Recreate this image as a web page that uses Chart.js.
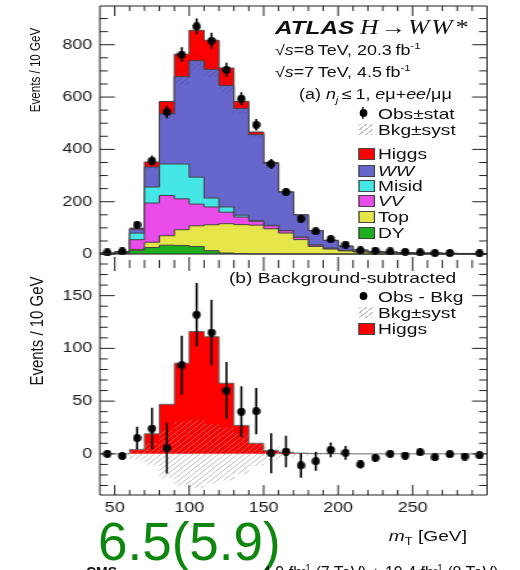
<!DOCTYPE html>
<html>
<head>
<meta charset="utf-8">
<script src="https://cdn.jsdelivr.net/npm/chart.js@4.4.1/dist/chart.umd.min.js"></script>
<style>
  body { margin: 0; background: #fff; width: 520px; height: 570px; overflow: hidden; position: relative; }
  #wrap { position: absolute; left: 0; top: 0; width: 406.25px; height: 570px; transform: scaleX(1.28); transform-origin: 0 0; }
  canvas { position: absolute; left: 0; }
  .t { position: absolute; white-space: nowrap; line-height: 1; font-family: 'Liberation Sans', Arial, sans-serif; color: #111; }
  .lg { font-size: 15px; left: 295.3px; }
  .box { position: absolute; left: 279.7px; width: 11.2px; height: 10px; border: 0.8px solid #444; }
  .dot { position: absolute; width: 6.3px; height: 8px; border-radius: 50%; background: #000; }
  .bar { position: absolute; width: 1.6px; background: #000; }
  .hatch { position: absolute; left: 279.7px; width: 11.7px; height: 11px;
           background: repeating-linear-gradient(-45deg, #bdbdbd 0 1px, transparent 1px 3.5px); }
  sup, sub { line-height: 0; }
</style>
</head>
<body>
<div id="wrap">
  <canvas id="cTop" width="406" height="270" style="top:0"></canvas>
  <canvas id="cBot" width="406" height="270" style="top:255px"></canvas>

  <div class="t" style="left:214.8px;top:18px;font-size:19px;font-weight:bold;font-style:italic">ATLAS</div>
  <div class="t" style="left:281.3px;top:17.2px;font-size:20px;font-style:italic;font-family:'Liberation Serif','Times New Roman',serif;letter-spacing:1.5px">H&#8594;WW*</div>
  <div class="t" style="left:214.8px;top:43.1px;font-size:14px">√<i>s</i>=8&#8201;TeV, 20.3&#8201;fb<sup style="font-size:9px">-1</sup></div>
  <div class="t" style="left:214.8px;top:65.1px;font-size:14px">√<i>s</i>=7&#8201;TeV, 4.5&#8201;fb<sup style="font-size:9px">-1</sup></div>
  <div class="t" style="left:233.6px;top:87.1px;font-size:14px">(a) <i>n</i><sub style="font-size:9px"><i>j</i></sub>&#8201;≤&#8201;1, <i>e</i>μ+<i>ee</i>/μμ</div>

  <div class="bar" style="left:282.8px;top:107px;height:12px"></div>
  <div class="dot" style="left:280.5px;top:109px"></div>
  <div class="t lg" style="top:105.6px">Obs±stat</div>
  <div class="hatch" style="top:123.5px"></div>
  <div class="t lg" style="top:121.6px">Bkg±syst</div>
  <div class="box" style="top:147.5px;background:#ff0000"></div>
  <div class="t lg" style="top:145.6px">Higgs</div>
  <div class="box" style="top:164.5px;background:#6666cc"></div>
  <div class="t lg" style="top:162.6px;font-style:italic">WW</div>
  <div class="box" style="top:179.5px;background:#44e6e6"></div>
  <div class="t lg" style="top:177.6px">Misid</div>
  <div class="box" style="top:194.5px;background:#ea4cea"></div>
  <div class="t lg" style="top:192.6px;font-style:italic">VV</div>
  <div class="box" style="top:210.5px;background:#e6e64a"></div>
  <div class="t lg" style="top:208.6px">Top</div>
  <div class="box" style="top:226.5px;background:#1eae1e"></div>
  <div class="t lg" style="top:224.6px">DY</div>

  <div class="t" style="left:178.9px;top:269.6px;font-size:15px">(b) Background-subtracted</div>
  <div class="dot" style="left:280.5px;top:292px"></div>
  <div class="t lg" style="top:288.6px">Obs - Bkg</div>
  <div class="hatch" style="top:306.5px"></div>
  <div class="t lg" style="top:304.6px">Bkg±syst</div>
  <div class="box" style="top:322.5px;background:#ff0000"></div>
  <div class="t lg" style="top:320.6px">Higgs</div>

  <div class="t" style="left:27.3px;top:70px;font-size:11.6px;transform:translate(-50%,-50%) rotate(-90deg)">Events / 10 GeV</div>
  <div class="t" style="left:28.1px;top:331px;font-size:15px;transform:translate(-50%,-50%) rotate(-90deg)">Events / 10 GeV</div>
  <div class="t" style="right:41.4px;top:527.6px;font-size:15px"><i>m</i><sub style="font-size:10px">T</sub> [GeV]</div>
</div>

<div class="t" style="left:98px;top:515px;font-size:53px;color:#0f870f">6.5(5.9)</div>
<div class="t" style="left:86px;top:565px;font-size:14px;font-weight:bold">CMS</div>
<div class="t" style="left:262px;top:565px;font-size:16px">4.9 fb<sup style="font-size:10px">-1</sup> (7 TeV) + 19.4 fb<sup style="font-size:10px">-1</sup> (8 TeV)</div>

<script>
// m_T bins, 10 GeV wide
const binEdges = [40, 50, 60, 70, 80, 90, 100, 110, 120, 130, 140, 150, 160, 170, 180, 190, 200, 210, 220, 230, 240, 250, 260, 270, 280, 290, 300];

// stacked expectation per bin (events / 10 GeV)
const dy     = [1.5, 3, 14, 25, 34, 33, 29, 13, 4, 1.5, 0.5, 0.5, 0.3, 0.2, 0.2, 0.1, 0.1, 0, 0, 0, 0, 0, 0, 0, 0, 0];
const topBkg = [0.5, 1, 4, 20, 36, 60, 79, 99, 112, 111, 110, 96, 80, 55, 29, 19, 12, 8, 5, 4, 3, 2, 2, 1.5, 1, 1];
const vv     = [0.3, 0.5, 37, 150, 154, 118, 83, 68, 44, 29, 15, 12, 9, 9, 5, 3, 2, 1.5, 1, 1, 0.8, 0.6, 0.5, 0.4, 0.3, 0.3];
const misid  = [0.2, 0.5, 25, 61, 120, 133, 103, 34, 20, 7, 2, 1, 0.5, 0.5, 0.3, 0.2, 0.2, 0.1, 0.1, 0, 0, 0, 0, 0, 0, 0];
const ww     = [1.5, 4, 15, 77, 192, 334, 445, 492, 464, 408, 329, 237, 147, 85, 55, 30, 16, 6, 4, 3, 2, 1.5, 1.5, 1, 1, 1];
const higgs  = [0, 0, 4, 19, 47, 86, 116, 111, 67, 27, 10, 3, 1.3, 0.6, 0.3, 0.2, 0.1, 0, 0, 0, 0, 0, 0, 0, 0, 0];

// data
const obs         = [6, 10, 112, 357, 543, 762, 870, 815, 704, 594, 494, 344, 237, 135, 87, 57, 36, 14, 13, 10, 8, 6, 4, 4, null, 3];
const obsErr      = [2.4, 3.2, 10.6, 19.6, 24, 28, 30, 31, 27, 24, 22, 19, 15, 11.6, 9, 7, 6.5, 4, 3.6, 3.2, 2.8, 2.4, 2, 2, 1.5, 1.7];
const obsMinusBkg = [0, -2, 15, 24, 5.4, 84, 132, 115, 60, 40, 40.5, 0.6, 2.2, -11, -7, 3.8, 1, -10, -3.8, 0, -1.6, 1.6, -3.2, -0.3, -2.5, -1.3];
const bkgSyst     = [0, 0, 5, 10, 22, 30, 32, 28, 25, 19, 11, 6, 3, 1.5, 1, 0.5, 0, 0, 0, 0, 0, 0, 0, 0, 0, 0];

const yTicksTop = [0, 200, 400, 600, 800];
const yTicksBot = [0, 50, 100, 150];
const xTicks = [50, 100, 150, 200, 250];

Chart.defaults.font.family = "'Liberation Sans', Arial, sans-serif";
Chart.defaults.color = '#1a1a1a';

const mids = binEdges.slice(0, -1).map((e, i) => (e + binEdges[i + 1]) / 2);

function stepData(vals) {
  const pts = vals.map((v, i) => ({ x: binEdges[i], y: v }));
  pts.push({ x: binEdges[vals.length], y: vals[vals.length - 1] });
  return pts;
}

function hatch(color) {
  const c = document.createElement('canvas');
  c.width = c.height = 5;
  const g = c.getContext('2d');
  g.strokeStyle = color;
  g.lineWidth = 1;
  g.beginPath();
  g.moveTo(0, 5); g.lineTo(5, 0);
  g.moveTo(-1, 1); g.lineTo(1, -1);
  g.moveTo(4, 6); g.lineTo(6, 4);
  g.stroke();
  return g.createPattern(c, 'repeat');
}

function dot() {
  const c = document.createElement('canvas');
  c.width = 7; c.height = 8;
  const g = c.getContext('2d');
  g.fillStyle = '#000';
  g.beginPath();
  g.ellipse(3.5, 4, 3.2, 4, 0, 0, Math.PI * 2);
  g.fill();
  return c;
}

// inward ROOT-like ticks and frame
const frame = {
  id: 'frame',
  afterDraw(chart, args, o) {
    const { ctx, chartArea: a, scales: { x, y } } = chart;
    ctx.save();
    ctx.strokeStyle = '#222';
    ctx.lineWidth = 1;
    ctx.beginPath();
    ctx.moveTo(a.left, a.top); ctx.lineTo(a.left, a.bottom);
    ctx.moveTo(a.right, a.top); ctx.lineTo(a.right, a.bottom);
    if (o.topLine) { ctx.moveTo(a.left, a.top); ctx.lineTo(a.right, a.top); }
    if (o.bottomLine) { ctx.moveTo(a.left, a.bottom); ctx.lineTo(a.right, a.bottom); }
    for (let v = o.yStart; v <= y.max; v += o.yMinor) {
      const p = y.getPixelForValue(v);
      const len = v % o.yMajor === 0 ? 11.7 : 6.2;
      ctx.moveTo(a.left, p); ctx.lineTo(a.left + len, p);
      ctx.moveTo(a.right, p); ctx.lineTo(a.right - len, p);
    }
    for (let v = 50; v < 300; v += 10) {
      const p = x.getPixelForValue(v);
      const major = v % 50 === 0;
      const lt = major ? o.xTop[1] : o.xTop[0];
      const lb = major ? o.xBot[1] : o.xBot[0];
      ctx.moveTo(p, a.top); ctx.lineTo(p, a.top + lt);
      ctx.moveTo(p, a.bottom); ctx.lineTo(p, a.bottom - lb);
    }
    if (o.zeroLine) {
      const p = y.getPixelForValue(0);
      ctx.moveTo(a.left, p); ctx.lineTo(a.right, p);
    }
    ctx.stroke();
    ctx.restore();
  }
};

const errorBars = {
  id: 'errorBars',
  afterDatasetsDraw(chart, args, o) {
    const i0 = chart.data.datasets.findIndex(d => d.label === 'obs');
    const meta = chart.getDatasetMeta(i0);
    const ys = chart.scales.y;
    const ctx = chart.ctx;
    const a = chart.chartArea;
    ctx.save();
    ctx.beginPath();
    ctx.rect(a.left, a.top, a.right - a.left, a.bottom - a.top);
    ctx.clip();
    ctx.strokeStyle = '#000';
    ctx.lineWidth = 1.6;
    meta.data.forEach((pt, i) => {
      const v = chart.data.datasets[i0].data[i].y;
      if (v == null) return;
      ctx.beginPath();
      ctx.moveTo(pt.x, ys.getPixelForValue(v - o.err[i]));
      ctx.lineTo(pt.x, ys.getPixelForValue(v + o.err[i]));
      ctx.stroke();
    });
    ctx.restore();
  }
};

function yAxis(min, max, ticks) {
  return {
    min: min, max: max,
    afterBuildTicks: s => { s.ticks = ticks.map(v => ({ value: v })); },
    afterFit: s => { s.width = 78; s.paddingTop = 0; s.paddingBottom = 0; },
    grid: { display: false, drawTicks: false },
    border: { display: false },
    ticks: { padding: 6, font: { size: 14 }, color: '#1a1a1a' }
  };
}

// ---------- top panel: stacked backgrounds + signal ----------
const layers = [
  [dy, '#1eae1e'], [topBkg, '#e6e64a'], [vv, '#ea4cea'],
  [misid, '#44e6e6'], [ww, '#6666cc'], [higgs, '#ff0000']
];
let cum = mids.map(() => 0);
let bkgTotal = null;
const stackSets = layers.map(([vals, col], k) => {
  if (vals === higgs) bkgTotal = cum.slice();
  cum = cum.map((c, i) => c + vals[i]);
  return {
    type: 'line', data: stepData(cum), stepped: 'before', fill: 'origin',
    backgroundColor: col, borderColor: '#444', borderWidth: 1, pointRadius: 0, order: 2 + k
  };
});

const topBand = mids.map((x, i) => ({ x: x, y: [bkgTotal[i] - bkgSyst[i], bkgTotal[i] + bkgSyst[i]] }))
  .filter((p, i) => bkgSyst[i] > 0);

new Chart(document.getElementById('cTop'), {
  type: 'line',
  data: {
    datasets: [
      { label: 'obs', type: 'line', showLine: false, data: mids.map((x, i) => ({ x: x, y: obs[i] })),
        pointStyle: dot(), pointRadius: 4, order: 0 },
      { type: 'bar', data: topBand, backgroundColor: hatch('rgba(50,50,80,0.22)'), borderWidth: 0,
        barPercentage: 1, categoryPercentage: 1, grouped: false, order: 1 },
      ...stackSets
    ]
  },
  options: {
    responsive: false, animation: false,
    layout: { padding: { left: 0, right: 25.5, top: 6, bottom: 6 } },
    plugins: {
      legend: { display: false }, tooltip: { enabled: false },
      frame: { yStart: 0, yMinor: 50, yMajor: 200, topLine: true, zeroLine: true, xTop: [5, 10], xBot: [4, 7] },
      errorBars: { err: obsErr }
    },
    scales: {
      x: { type: 'linear', min: 40, max: 300, offset: false, display: false },
      y: yAxis(-38, 948, yTicksTop)
    }
  },
  plugins: [frame, errorBars]
});

// ---------- bottom panel: background-subtracted ----------
const botBand = mids.map((x, i) => ({ x: x, y: [-bkgSyst[i], bkgSyst[i]] })).filter((p, i) => bkgSyst[i] > 0);

new Chart(document.getElementById('cBot'), {
  type: 'line',
  data: {
    datasets: [
      { label: 'obs', type: 'line', showLine: false, data: mids.map((x, i) => ({ x: x, y: obsMinusBkg[i] })),
        pointStyle: dot(), pointRadius: 4, order: 0 },
      { type: 'bar', data: botBand, backgroundColor: hatch('rgba(150,150,150,0.6)'), borderWidth: 0,
        barPercentage: 1, categoryPercentage: 1, grouped: false, order: 1 },
      { type: 'line', data: stepData(higgs), stepped: 'before', fill: 'origin',
        backgroundColor: '#ff0000', borderColor: '#666', borderWidth: 1, pointRadius: 0, order: 2 }
    ]
  },
  options: {
    responsive: false, animation: false,
    layout: { padding: { left: 0, right: 25.5, top: 9, bottom: 0 } },
    plugins: {
      legend: { display: false }, tooltip: { enabled: false },
      frame: { yStart: -30, yMinor: 10, yMajor: 50, bottomLine: true, xTop: [4, 7], xBot: [5, 10] },
      errorBars: { err: obsErr }
    },
    scales: {
      x: {
        type: 'linear', min: 40, max: 300, offset: false,
        afterBuildTicks: s => { s.ticks = xTicks.map(v => ({ value: v })); },
        afterFit: s => { s.height = 30; s.paddingLeft = 0; s.paddingRight = 0; },
        grid: { display: false, drawTicks: false },
        border: { display: false },
        ticks: { padding: 5, autoSkip: false, maxRotation: 0, font: { size: 14 }, color: '#1a1a1a' }
      },
      y: yAxis(-39, 180, yTicksBot)
    }
  },
  plugins: [frame, errorBars]
});
</script>
</body>
</html>
